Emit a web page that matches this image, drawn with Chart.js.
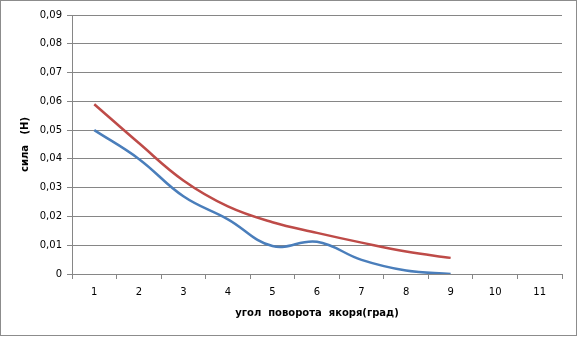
<!DOCTYPE html>
<html>
<head>
<meta charset="utf-8">
<script src="https://cdn.jsdelivr.net/npm/chart.js@4"></script>
<style>
  html, body { margin: 0; padding: 0; background: #fff; }
  #wrap { position: relative; width: 577px; height: 337px; }
  #frame { position: absolute; left: 0; top: 0; width: 575px; height: 334px; border: 1px solid #8c8c8c; pointer-events: none; }
</style>
</head>
<body>
<div id="wrap">
  <canvas id="chart" width="577" height="337"></canvas>
  <div id="frame"></div>
</div>
<script>
const angles = ["1", "2", "3", "4", "5", "6", "7", "8", "9", "10", "11"];
const forceBlue = [0.050, 0.040, 0.027, 0.019, 0.0097, 0.0112, 0.0049, 0.0012, 0.0];
const forceRed = [0.059, 0.0455, 0.0325, 0.0235, 0.018, 0.0143, 0.0109, 0.0078, 0.0056];

const font = { family: "'DejaVu Sans', Verdana, sans-serif", size: 10 };
const lineGrey = "#868686";

new Chart(document.getElementById("chart"), {
    type: "line",
    data: {
        labels: angles,
        datasets: [
            { data: forceBlue, borderColor: "#4a7ebb", borderWidth: 2.5, pointRadius: 0, tension: 0.4, fill: false },
            { data: forceRed, borderColor: "#be4b48", borderWidth: 2.5, pointRadius: 0, tension: 0.4, fill: false }
        ]
    },
    options: {
        responsive: false,
        animation: false,
        layout: { padding: { top: 15, right: 15, left: 0, bottom: 0 } },
        plugins: { legend: { display: false }, tooltip: { enabled: false } },
        scales: {
            x: {
                offset: true,
                grid: { offset: true, drawOnChartArea: false, drawTicks: true, tickLength: 5, color: lineGrey },
                border: { color: lineGrey },
                ticks: { color: "#000", font: font, padding: 7, maxRotation: 0 },
                title: {
                    display: true,
                    text: "угол  поворота  якоря(град)",
                    color: "#000",
                    font: { family: font.family, size: 10, weight: "bold" },
                    padding: { top: 0, bottom: 18 }
                },
                afterFit: s => { s.height = 63; }
            },
            y: {
                min: 0,
                max: 0.09,
                grid: { color: lineGrey, tickLength: 5 },
                border: { color: lineGrey },
                ticks: {
                    stepSize: 0.01,
                    color: "#000",
                    font: font,
                    padding: 5,
                    callback: v => v === 0 ? "0" : v.toFixed(2).replace(".", ",")
                },
                title: {
                    display: true,
                    text: "сила   (Н)",
                    color: "#000",
                    font: { family: font.family, size: 10, weight: "bold" },
                    padding: { top: 19, bottom: 0 }
                },
                afterFit: s => { s.width = 72; }
            }
        }
    }
});
</script>
</body>
</html>
